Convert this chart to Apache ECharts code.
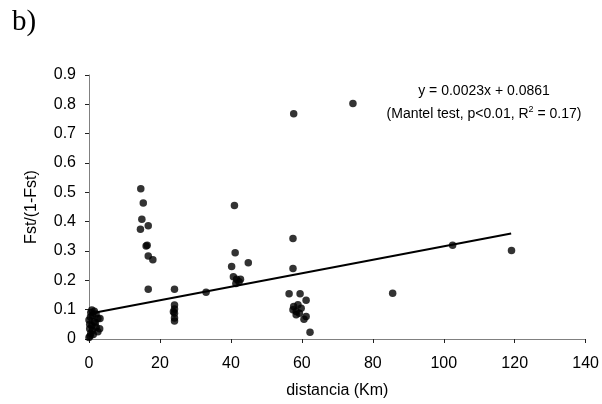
<!DOCTYPE html>
<html>
<head>
<meta charset="utf-8">
<script src="https://cdn.jsdelivr.net/npm/echarts@6/dist/echarts.min.js"></script>
<style>
  html, body { margin: 0; padding: 0; background: #fff; }
  #mainChart { width: 602px; height: 404px; }
</style>
</head>
<body>
<div id="mainChart"></div>
<script>
// distancia (Km) y Fst/(1-Fst)
var distancia = [
  0, 0.3, 0.5, 1, 0.8, 0.2, 1.5, 0, 2.5, 3.1, 1, 0.5, 0.8, 1.5, 2, 3, 2.5, 1.2, 0.2, 2, 0.4, 1.8,
  14.6, 15.3, 14.9, 14.5, 16.7, 16.1, 16.4, 16.7, 18.0, 16.7,
  24.1, 24.1, 24.1, 23.8, 24.1, 24.1, 24.1,
  33.0,
  41.0, 41.2, 40.2, 44.9, 40.7, 41.6, 42.7, 41.4, 42.3,
  57.7, 57.5, 57.5, 56.4, 59.5, 61.2, 57.7, 58.9, 59.8, 57.5, 58.4, 59.3, 58.4, 61.2, 60.6, 62.3,
  74.4, 85.6, 102.5, 119.1
];
var fst = [
  0.005, 0.01, 0.02, 0.03, 0.045, 0.05, 0.06, 0.065, 0.07, 0.07, 0.08, 0.09, 0.099, 0.095, 0.04, 0.035, 0.025, 0.015, 0.035, 0.085, 0.075, 0.055,
  0.512, 0.464, 0.408, 0.374, 0.386, 0.317, 0.32, 0.283, 0.270, 0.170,
  0.170, 0.116, 0.102, 0.093, 0.088, 0.072, 0.061,
  0.159,
  0.455, 0.294, 0.247, 0.260, 0.212, 0.204, 0.204, 0.189, 0.195,
  0.768, 0.343, 0.240, 0.154, 0.154, 0.132, 0.111, 0.117, 0.105, 0.100, 0.094, 0.088, 0.083, 0.077, 0.067, 0.023,
  0.803, 0.156, 0.320, 0.302
];
// recta de regresion y = 0.0023x + 0.0861
var pendiente = 0.0023;
var intercepto = 0.0861;
var rectaX = [0, 119];
var xTicks = [0, 20, 40, 60, 80, 100, 120, 140];
var yTicks = [0, 0.1, 0.2, 0.3, 0.4, 0.5, 0.6, 0.7, 0.8, 0.9];

var puntos = distancia.map(function (d, i) { return [d, fst[i]]; });
var recta = rectaX.map(function (x) { return [x, +(pendiente * x + intercepto).toFixed(4)]; });

var chart = echarts.init(document.getElementById("mainChart"));
var font = "Liberation Sans";
var option = {
  animation: false,
  backgroundColor: "#fff",
  textStyle: { fontFamily: font },
  grid: { left: 89, right: 15, top: 75, bottom: 63 },
  xAxis: {
    type: "value",
    min: xTicks[0],
    max: xTicks[xTicks.length - 1],
    interval: 20,
    name: "distancia (Km)",
    nameLocation: "middle",
    nameGap: 44,
    nameTextStyle: { color: "#000", fontSize: 16, fontFamily: font },
    axisLine: { lineStyle: { color: "#808080", width: 1 } },
    axisTick: { show: true, length: 4, lineStyle: { color: "#222" } },
    axisLabel: { color: "#000", fontSize: 16, margin: 17, fontFamily: font },
    splitLine: { show: false }
  },
  yAxis: {
    type: "value",
    min: yTicks[0],
    max: yTicks[yTicks.length - 1],
    interval: 0.1,
    name: "Fst/(1-Fst)",
    nameLocation: "middle",
    nameGap: 49,
    nameTextStyle: { color: "#000", fontSize: 16, fontFamily: font },
    axisLine: { show: true, lineStyle: { color: "#808080", width: 1 } },
    axisTick: { show: true, length: 4, lineStyle: { color: "#222" } },
    axisLabel: {
      color: "#000", fontSize: 16, margin: 13, fontFamily: font,
      formatter: function (v) { return +v.toFixed(1) + ""; }
    },
    splitLine: { show: false }
  },
  series: [
    {
      name: "datos",
      type: "scatter",
      symbol: "circle",
      symbolSize: 7.5,
      itemStyle: { color: "#000" },
      data: puntos
    },
    {
      name: "recta",
      type: "line",
      symbol: "none",
      lineStyle: { color: "#000", width: 2 },
      data: recta
    }
  ],
  graphic: [
    {
      type: "text",
      left: 12,
      top: 8,
      style: { text: "b)", fontFamily: "Liberation Serif", fontSize: 29, fill: "#000" }
    },
    {
      type: "text",
      x: 484,
      y: 91,
      style: {
        text: "y = 0.0023x + 0.0861",
        fontFamily: font, fontSize: 14, fill: "#000",
        align: "center", verticalAlign: "middle"
      }
    },
    {
      type: "text",
      x: 484,
      y: 114,
      style: {
        text: "(Mantel test, p<0.01, R{sup|2} = 0.17)",
        fontFamily: font, fontSize: 14, fill: "#000",
        align: "center", verticalAlign: "middle",
        rich: { sup: { fontSize: 9, verticalAlign: "top", padding: [0, 0, 8, 0], fontFamily: font } }
      }
    }
  ]
};
chart.setOption(option);
</script>
</body>
</html>
